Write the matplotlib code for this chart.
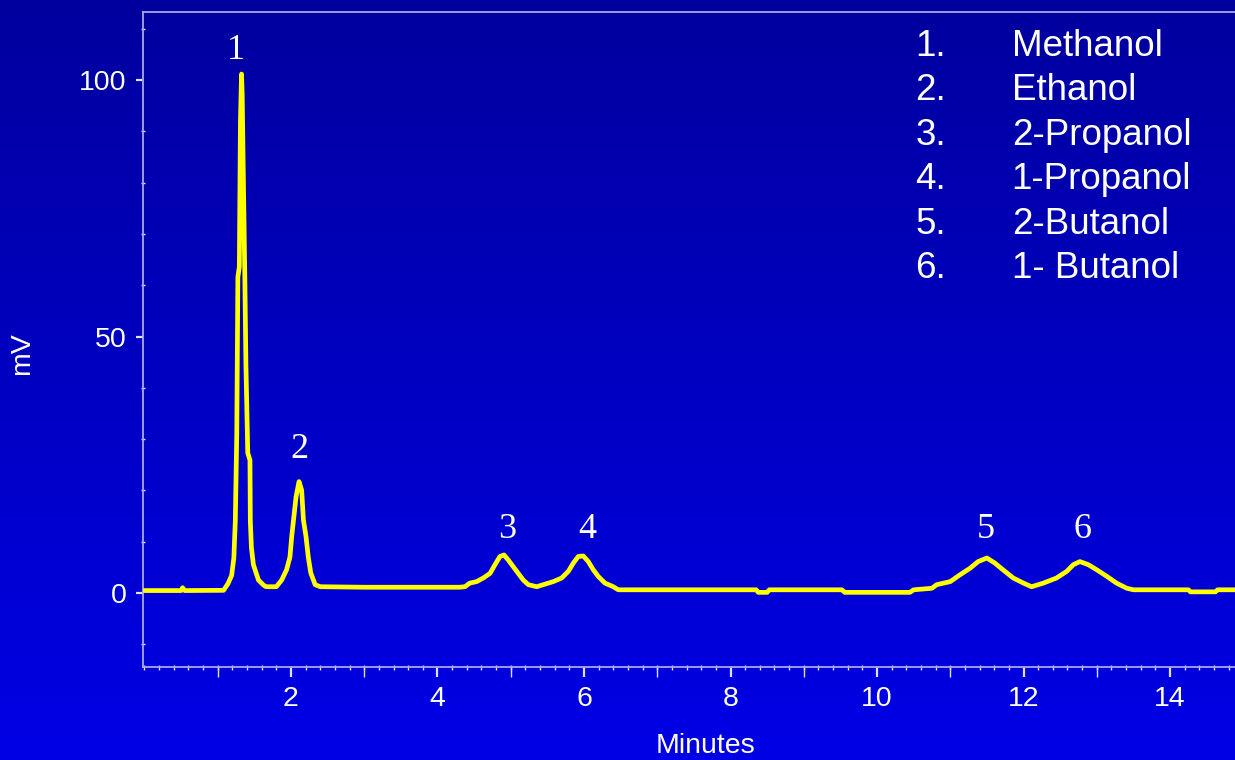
import numpy as np
import matplotlib
matplotlib.use("Agg")
import matplotlib.pyplot as plt
from matplotlib.colors import LinearSegmentedColormap
from matplotlib.ticker import MultipleLocator, FixedLocator

# ---- data ----
time_min = [0.00, 0.50, 0.52, 0.55, 1.08, 1.14, 1.19, 1.22, 1.24, 1.26, 1.275,
            1.295, 1.31, 1.325, 1.334, 1.347, 1.37, 1.385, 1.41, 1.44, 1.445,
            1.46, 1.487, 1.556, 1.626, 1.66, 1.80, 1.873, 1.94, 1.986, 2.01,
            2.04, 2.07, 2.11, 2.146, 2.17, 2.205, 2.236, 2.27, 2.33, 2.40, 3.00,
            4.30, 4.375, 4.44, 4.535, 4.625, 4.717, 4.785, 4.853, 4.908, 4.967,
            5.035, 5.103, 5.171, 5.24, 5.354, 5.444, 5.581, 5.695, 5.786, 5.854,
            5.922, 5.99, 6.059, 6.127, 6.195, 6.287, 6.40, 6.468, 8.35, 8.38,
            8.50, 8.53, 9.52, 9.56, 10.45, 10.50, 10.75, 10.815, 11.0, 11.13,
            11.27, 11.38, 11.50, 11.61, 11.72, 11.86, 12.0, 12.11, 12.27, 12.45,
            12.59, 12.68, 12.77, 12.885, 13.0, 13.14, 13.27, 13.41, 13.5, 14.25,
            14.28, 14.62, 14.65, 14.9]
signal_mv = [0.45, 0.45, 1.0, 0.45, 0.5, 1.8, 3.4, 6.8, 14.0, 31.0, 61.6,
             63.6, 92.0, 101.2, 97.3, 84.0, 61.6, 44.4, 27.3, 25.9, 14.0,
             8.8, 5.5, 2.5, 1.5, 1.2, 1.2, 2.5, 4.5, 7.0, 11.0,
             14.9, 18.8, 21.7, 20.0, 14.2, 11.0, 7.0, 3.9, 1.6, 1.2, 1.1,
             1.1, 1.2, 1.9, 2.2, 2.9, 3.8, 5.5, 7.1, 7.4, 6.4,
             5.1, 3.8, 2.5, 1.6, 1.2, 1.6, 2.2, 2.9, 4.2, 5.8,
             7.1, 7.2, 6.1, 4.5, 3.2, 1.9, 1.2, 0.6, 0.6, 0.1,
             0.1, 0.6, 0.6, 0.1, 0.1, 0.6, 0.9, 1.6, 2.2, 3.5,
             4.8, 6.1, 6.8, 5.8, 4.5, 2.9, 1.9, 1.2, 1.9, 2.9,
             4.2, 5.5, 6.1, 5.5, 4.5, 3.2, 1.9, 0.9, 0.6, 0.6,
             0.2, 0.2, 0.6, 0.6]

peak_ids = ["1", "2", "3", "4", "5", "6"]
peak_label_x = [1.25, 2.11, 4.95, 6.04, 11.49, 12.81]
peak_label_y = [104.2, 26.3, 10.7, 10.7, 10.7, 10.7]

compound_numbers = ["1.", "2.", "3.", "4.", "5.", "6."]
compound_names = ["Methanol", "Ethanol", "2-Propanol", "1-Propanol",
                  "2-Butanol", "1- Butanol"]

x_major_ticks = [2, 4, 6, 8, 10, 12, 14]
x_mid_ticks = [1, 3, 5, 7, 9, 11, 13]
y_major_ticks = [0, 50, 100]

# ---- figure ----
W, H = 1235, 760
fig = plt.figure(figsize=(W / 100, H / 100), dpi=100)

bg = fig.add_axes([0, 0, 1, 1], zorder=0)
cmap = LinearSegmentedColormap.from_list("bg", ["#00009E", "#0000E6"])
bg.imshow(np.linspace(0, 1, 256).reshape(-1, 1), aspect="auto", cmap=cmap,
          extent=[0, 1, 0, 1], origin="upper")
bg.set_axis_off()

left, right, top, bottom = 143.3, 1235, 12, 666.7
ax = fig.add_axes([left / W, 1 - bottom / H, (right - left) / W, (bottom - top) / H],
                  zorder=1)
ax.patch.set_alpha(0)

ax.plot(time_min, signal_mv, color="#FFFF00", lw=3.4, solid_joinstyle="round",
        solid_capstyle="round", zorder=3)

ax.set_xlim(-0.016, 14.887)
ax.set_ylim(-14.4, 113.3)

spine_col = "#A8A8E6"
tick_col = "#E0E0FF"
ax.spines["right"].set_visible(False)
for s in ["left", "top", "bottom"]:
    ax.spines[s].set_color(spine_col)
    ax.spines[s].set_linewidth(1.3)

sans = "Liberation Sans"
ax.xaxis.set_major_locator(FixedLocator(x_major_ticks))
ax.xaxis.set_minor_locator(MultipleLocator(0.2))
ax.yaxis.set_major_locator(FixedLocator(y_major_ticks))
ax.yaxis.set_minor_locator(MultipleLocator(10))

ax.tick_params(axis="x", which="major", direction="out", length=7.5, width=1.6,
               color=tick_col, labelcolor="white", labelsize=20.5, pad=6.5)
ax.tick_params(axis="x", which="minor", direction="inout", length=3.6, width=1.0,
               color=tick_col)
ax.tick_params(axis="y", which="major", direction="out", length=5, width=1.6,
               color=tick_col, labelcolor="white", labelsize=20.5, pad=7)
ax.tick_params(axis="y", which="minor", direction="inout", length=3.0, width=1.0,
               color=tick_col)
for lab in ax.get_xticklabels() + ax.get_yticklabels():
    lab.set_fontfamily(sans)

sec = ax.secondary_xaxis("bottom")
sec.set_xticks(x_mid_ticks)
sec.tick_params(axis="x", which="major", direction="out", length=7.5, width=1.0,
                color=tick_col, labelbottom=False)
sec.xaxis.set_minor_locator(FixedLocator([]))
sec.spines["bottom"].set_visible(False)

ax.set_xlabel("Minutes", color="white", fontsize=20.5, fontfamily=sans)
ax.xaxis.set_label_coords((706 - left) / (right - left), -0.101)
fig.text(22 / W, 1 - 354 / H, "mV", rotation=90, ha="center", va="center",
         color="white", fontsize=20.5, fontfamily=sans)

for pid, px, py in zip(peak_ids, peak_label_x, peak_label_y):
    ax.text(px, py, pid, ha="center", va="baseline", color="white",
            fontsize=26, fontfamily="Liberation Serif", zorder=4)

for i, (num, name) in enumerate(zip(compound_numbers, compound_names)):
    yb = 1 - (56 + 44.46 * i) / H
    fig.text(915.5 / W, yb, num, ha="left", va="baseline", color="white",
             fontsize=26.5, fontfamily=sans)
    fig.text(1011.7 / W, yb, name, ha="left", va="baseline", color="white",
             fontsize=26.5, fontfamily=sans)

fig.savefig("out.png", dpi=100)
